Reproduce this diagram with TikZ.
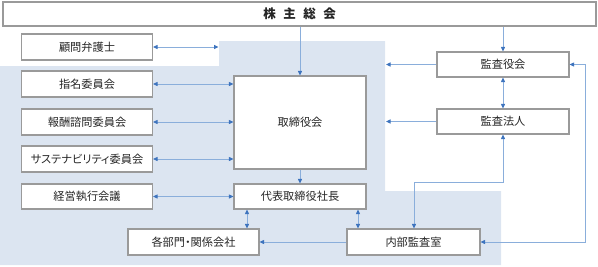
\documentclass[tikz,border=0pt]{standalone}
\usepackage{fontspec}
\setmainfont{Noto Sans CJK JP}[RawFeature=+palt]
\usetikzlibrary{arrows.meta}
\definecolor{bgblue}{HTML}{DCE5F1}
\definecolor{boxline}{HTML}{9A9A9A}
\definecolor{lineblue}{HTML}{8AAEDB}
\definecolor{tipblue}{HTML}{3E74BE}
\definecolor{txt}{HTML}{262626}
\tikzset{
  box/.style={draw=boxline, line width=1.1pt, fill=white, rectangle, inner sep=0pt,
    minimum width=131pt, minimum height=26pt, text=txt, font=\fontsize{11.2}{13}\selectfont},
  conn/.style={draw=lineblue, line width=0.9pt},
  tipA/.tip={Triangle[length=4.5pt,width=4pt,color=tipblue]},
  one/.style={conn, -tipA},
  two/.style={conn, tipA-tipA},
}
\begin{document}
\begin{tikzpicture}[x=1pt,y=-1pt]
\useasboundingbox (0,0) rectangle (598,266);
\fill[bgblue] (0,66) -- (219,66) -- (219,41) -- (385,41) -- (385,191) -- (501,191) -- (501,265) -- (0,265) -- cycle;

\node[box, minimum width=593pt, minimum height=24pt, font=\fontsize{12.5}{14}\selectfont\bfseries] (top) at (299.5,14) {株\hspace{7.5pt}主\hspace{7.5pt}総\hspace{7.5pt}会};

\node[box] (komon) at (87,47) {顧問弁護士};
\node[box] (shimei) at (87,84) {指名委員会};
\node[box] (hoshu) at (87,122) {報酬諮問委員会};
\node[box] (sus) at (87,159) {サステナビリティ委員会};
\node[box, minimum height=25pt] (keiei) at (87,196.5) {経営執行会議};
\node[box] (kakubu) at (193.5,242) {各部門・関係会社};

\node[box, minimum width=132pt, minimum height=93pt] (tori) at (300,122.5) {取締役会};
\node[box, minimum width=132pt, minimum height=25pt] (daihyo) at (300,196.5) {代表取締役社長};
\node[box, minimum width=133pt] (naibu) at (413.5,242) {内部監査室};

\node[box, minimum width=132pt, minimum height=25pt] (kansayaku) at (503,64.5) {監査役会};
\node[box, minimum width=132pt, minimum height=25pt] (hojin) at (503,121.5) {監査法人};

\coordinate (kb) at (218.5,47);
\coordinate (ky) at (386,64.5);
\coordinate (kh) at (386,121.5);
\coordinate (c1) at (503,182);
\coordinate (c2) at (414,182);
\coordinate (c3) at (585,64.5);
\coordinate (c4) at (585,242);

\draw[one] (tori.north |- top.south) -- (tori.north);
\draw[one] (kansayaku.north |- top.south) -- (kansayaku.north);
\draw[two] (komon.east) -- (kb);
\draw[two] (shimei.east) -- (tori.west |- shimei.east);
\draw[two] (hoshu.east) -- (tori.west |- hoshu.east);
\draw[two] (sus.east) -- (tori.west |- sus.east);
\draw[two] (keiei.east) -- (daihyo.west);
\draw[one] (tori.south) -- (daihyo.north);
\draw[two] (247,0 |- daihyo.south) -- (247,0 |- kakubu.north);
\draw[two] (358,0 |- daihyo.south) -- (358,0 |- naibu.north);
\draw[one] (naibu.west) -- (kakubu.east);
\draw[one] (kansayaku.west) -- (ky);
\draw[one] (hojin.west) -- (kh);
\draw[two] (kansayaku.south) -- (hojin.north);
\draw[two] (hojin.south) -- (c1) -- (c2) -- (c2 |- naibu.north);
\draw[two] (kansayaku.east) -- (c3) -- (c4) -- (naibu.east);
\end{tikzpicture}
\end{document}
